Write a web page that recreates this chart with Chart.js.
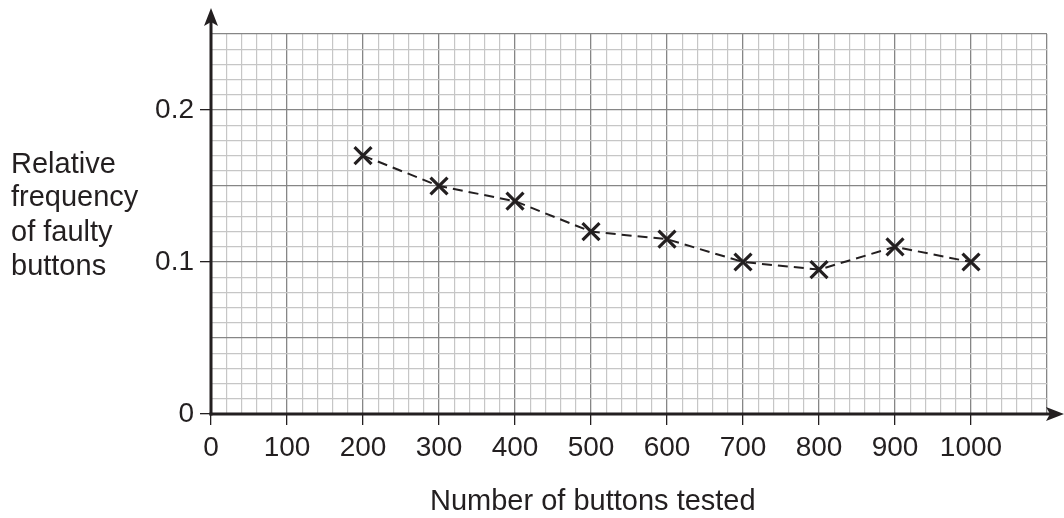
<!DOCTYPE html>
<html>
<head>
<meta charset="utf-8">
<title>Relative frequency of faulty buttons</title>
<script src="https://cdn.jsdelivr.net/npm/chart.js@4/dist/chart.umd.min.js"></script>
<style>
  html, body { margin: 0; padding: 0; background: #fff; }
  #wrap { position: relative; width: 1064px; height: 518px; }
</style>
</head>
<body>
<div id="wrap"><canvas id="chart"></canvas></div>
<script>
/* data */
var BUTTONS_TESTED = [200, 300, 400, 500, 600, 700, 800, 900, 1000];
var REL_FREQ = [0.17, 0.15, 0.14, 0.12, 0.115, 0.10, 0.095, 0.11, 0.10];
var X_LABELS = [0, 100, 200, 300, 400, 500, 600, 700, 800, 900, 1000];
var Y_LABELS = [0, 0.1, 0.2];
var Y_TITLE = ['Relative', 'frequency', 'of faulty', 'buttons'];
var X_TITLE = 'Number of buttons tested';

(function () {
  'use strict';

  var INK = '#231f20';
  var MINOR = '#c6c6c6';
  var MAJOR = '#868686';
  var FONT = '"Liberation Sans", Arial, sans-serif';

  function isXLabel(v) { return X_LABELS.indexOf(v) !== -1; }
  function isYLabel(v) {
    return Y_LABELS.some(function (l) { return Math.abs(l - v) < 1e-9; });
  }
  function yMajor(v) { return Math.round(v * 100) % 5 === 0; }

  /* thick axes with arrow heads + the two free-standing titles */
  var axesPlugin = {
    id: 'axesArrows',
    afterDraw: function (chart) {
      var ctx = chart.ctx, xs = chart.scales.x, ys = chart.scales.y;
      var x0 = xs.getPixelForValue(0), y0 = ys.getPixelForValue(0);
      ctx.save();
      ctx.strokeStyle = INK; ctx.fillStyle = INK; ctx.lineWidth = 3;
      ctx.beginPath(); ctx.moveTo(x0, y0 + 1.5); ctx.lineTo(x0, 22); ctx.stroke();
      ctx.beginPath(); ctx.moveTo(x0 - 1.5, y0); ctx.lineTo(1052, y0); ctx.stroke();

      ctx.beginPath();
      ctx.moveTo(x0, 8); ctx.lineTo(x0 + 7, 26); ctx.lineTo(x0, 22); ctx.lineTo(x0 - 7, 26);
      ctx.closePath(); ctx.fill();
      ctx.beginPath();
      ctx.moveTo(1064, y0); ctx.lineTo(1046, y0 - 7); ctx.lineTo(1050, y0); ctx.lineTo(1046, y0 + 7);
      ctx.closePath(); ctx.fill();

      ctx.font = '29px ' + FONT;
      ctx.textAlign = 'left'; ctx.textBaseline = 'alphabetic';
      var base = [173, 206, 241, 275];
      Y_TITLE.forEach(function (t, i) { ctx.fillText(t, 11, base[i]); });
      ctx.fillText(X_TITLE, 430, 510);
      ctx.restore();
    }
  };

  new Chart(document.getElementById('chart'), {
    type: 'line',
    data: {
      datasets: [{
        data: BUTTONS_TESTED.map(function (x, i) { return { x: x, y: REL_FREQ[i] }; }),
        borderColor: INK,
        borderWidth: 2,
        borderDash: [10, 6],
        pointStyle: 'crossRot',
        pointRadius: 12,
        pointBorderWidth: 3.2,
        pointBorderColor: INK,
        pointHoverRadius: 12,
        fill: false,
        tension: 0,
      }],
    },
    options: {
      responsive: true, maintainAspectRatio: false, animation: false,
      layout: { padding: { left: 0, top: 34, right: 17, bottom: 0 } },
      plugins: { legend: { display: false }, tooltip: { enabled: false } },
      scales: {
        x: {
          type: 'linear', min: 0, max: 1100,
          border: { display: false },
          grid: {
            color: function (c) { return c.tick.value % 100 === 0 ? MAJOR : MINOR; },
            lineWidth: function (c) { return c.tick.value % 100 === 0 ? 1.3 : 1.2; },
            tickColor: function (c) { return isXLabel(c.tick.value) ? INK : 'rgba(0,0,0,0)'; },
            tickLength: 11, tickWidth: 1.3,
          },
          ticks: {
            stepSize: 20, autoSkip: false, maxRotation: 0, padding: 6,
            color: INK, font: { family: FONT, size: 28 },
            callback: function (v) { return isXLabel(v) ? String(v) : ''; },
          },
          afterFit: function (s) { s.height = 104; },
        },
        y: {
          type: 'linear', min: 0, max: 0.25,
          border: { display: false },
          grid: {
            color: function (c) { return yMajor(c.tick.value) ? MAJOR : MINOR; },
            lineWidth: function (c) { return yMajor(c.tick.value) ? 1.3 : 1.2; },
            tickColor: function (c) { return isYLabel(c.tick.value) ? INK : 'rgba(0,0,0,0)'; },
            tickLength: 11, tickWidth: 1.3,
          },
          ticks: {
            stepSize: 0.01, autoSkip: false, padding: 6,
            color: INK, font: { family: FONT, size: 28 },
            callback: function (v) { return isYLabel(v) ? String(+v.toFixed(2)) : ''; },
          },
          afterFit: function (s) { s.width = 211; },
        },
      },
    },
    plugins: [axesPlugin],
  });
})();
</script>
</body>
</html>
